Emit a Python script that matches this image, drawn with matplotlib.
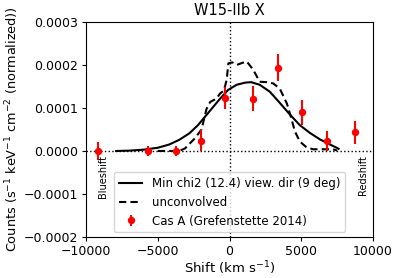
import matplotlib
matplotlib.use('Agg')
import matplotlib.pyplot as plt

# %%
# Cas A data points (Grefenstette 2014)
obs_shift = [-9185, -5660, -3730, -1960, -340, 1640, 3380, 5075, 6770, 8720]
obs_counts = [0.0, 0.0, 0.0, 0.000024, 0.000123, 0.000122, 0.000194, 0.0000896, 0.0000229, 0.0000432]
obs_err = [0.00002, 0.000012, 0.000012, 0.000024, 0.000025, 0.000028, 0.000031, 0.000029, 0.000024, 0.000026]

# min chi2 model, convolved
model_shift = [-7900, -7000, -6000, -5000, -4200, -3500, -2800, -2200, -1700, -1200, -700, -100,
               500, 1100, 1500, 2100, 2800, 3500, 4200, 4900, 5600, 6300, 7000, 7500, 7600]
model_counts = [0.0, 0.0000008, 0.000003, 0.0000075, 0.000015, 0.000026, 0.000041, 0.00006, 0.00008,
                0.0001, 0.00012, 0.000142, 0.000154, 0.000159, 0.00016, 0.000154, 0.000138, 0.000112,
                0.000085, 0.00006, 0.000042, 0.000027, 0.000015, 0.000007, 0.000005]

# unconvolved model
unconv_shift = [-5000, -3500, -3100, -2400, -1950, -1600, -1350, -900, -650, -400, -200, -80, 200,
                500, 900, 1200, 1650, 2100, 2600, 3050, 3500, 4000, 4250, 4560, 4900, 5380, 5840,
                7200, 7500]
unconv_counts = [0.0, 0.0, 0.000006, 0.00003, 0.00005, 0.000098, 0.000114, 0.000122, 0.000134,
                 0.00014, 0.000165, 0.000204, 0.000206, 0.0002, 0.000205, 0.000208, 0.000189,
                 0.000161, 0.00016, 0.000157, 0.000145, 0.00011, 0.000082, 0.000045, 0.000022,
                 0.000008, 0.000004, 0.000004, 0.000001]

# %%
fig = plt.figure(figsize=(3.99, 2.78), dpi=100)
ax = fig.add_axes([0.2155, 0.1475, 0.7195, 0.7735])

ax.plot(model_shift, model_counts, color='black', lw=1.5,
        label='Min chi2 (12.4) view. dir (9 deg)')
ax.plot(unconv_shift, unconv_counts, color='black', lw=1.5, ls='--', dashes=(3.5, 2),
        label='unconvolved')
ax.errorbar(obs_shift, obs_counts, yerr=obs_err, fmt='o', color='red', ms=4.3, elinewidth=1.5,
            label='Cas A (Grefenstette 2014)')

ax.axhline(0, color='black', ls=':', lw=1)
ax.axvline(0, color='black', ls=':', lw=1)

ax.text(-8800, -0.00001, 'Blueshift', rotation=90, fontsize=7, ha='center', va='top')
ax.text(9300, -0.00001, 'Redshift', rotation=90, fontsize=7, ha='center', va='top')

ax.set_xlim(-10000, 10000)
ax.set_ylim(-0.0002, 0.0003)
ax.set_xticks([-10000, -5000, 0, 5000, 10000])
ax.set_yticks([-0.0002, -0.0001, 0.0, 0.0001, 0.0002, 0.0003])
ax.set_yticklabels(['\u22120.0002', '\u22120.0001', '0.0000', '0.0001', '0.0002', '0.0003'])
ax.tick_params(labelsize=9, length=3, pad=2.5)

ax.set_xlabel('Shift (km s$^{-1}$)', fontsize=9.5, labelpad=1)
ax.set_ylabel('Counts (s$^{-1}$ keV$^{-1}$ cm$^{-2}$ (normalized))', fontsize=9.3, labelpad=2)
ax.set_title('W15-IIb X', fontsize=10.5, pad=5)
ax.legend(loc='lower center', fontsize=8.5, borderaxespad=0.4)

fig.savefig('out.png', dpi=100)
